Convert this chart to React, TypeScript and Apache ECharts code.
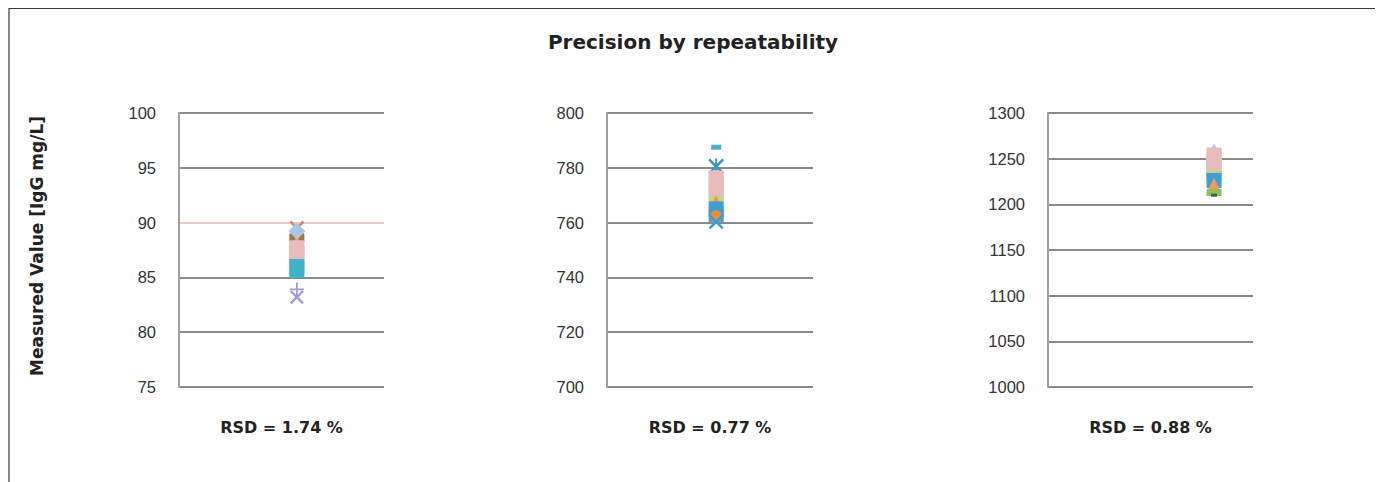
import React, { useEffect, useRef } from "react";
import * as echarts from "echarts";

// ---- data ----
const panelTitles = ["RSD = 1.74 %", "RSD = 0.77 %", "RSD = 0.88 %"];
const yMins = [75, 700, 1000];
const yMaxs = [100, 800, 1300];
const yIntervals = [5, 20, 50];
const sampleSlot = [0.575, 0.53, 0.81];

// panel 1 (low level)
const low_xRed = [89.5];
const low_diamond = [89.2];
const low_brown = [88.6];
const low_orangeTri = [88.2];
const low_pink = [87.7, 87.3, 86.9, 86.6];
const low_teal = [86.0, 85.6];
const low_plus = [83.9];
const low_xPurple = [83.2];

// panel 2 (mid level)
const mid_dash = [787.5];
const mid_star = [780.5];
const mid_pink = [776.3, 774.3, 772.3, 770.6];
const mid_green = [768.6];
const mid_orangeTri = [767.6];
const mid_blue = [765.0, 763.0];
const mid_orangeCircle = [762.3];
const mid_xTeal = [760.3];

// panel 3 (high level)
const high_triangle = [1258];
const high_pink = [1254, 1250, 1246, 1242, 1238];
const high_green = [1234];
const high_teal = [1230];
const high_blue = [1226];
const high_orange = [1222, 1218];
const high_green2 = [1213];
const high_dark = [1210];

const X_PATH = "path://M0,1.2 L1.2,0 L10,8.8 L8.8,10 Z M8.8,0 L10,1.2 L1.2,10 L0,8.8 Z";
const PLUS_PATH = "path://M4.4,0 H5.6 V10 H4.4 Z M0,4.4 H10 V5.6 H0 Z";
const STAR_PATH =
  "path://M0,1.2 L1.2,0 L10,8.8 L8.8,10 Z M8.8,0 L10,1.2 L1.2,10 L0,8.8 Z M4.4,0 H5.6 V10 H4.4 Z";
const DASH_PATH = "path://M0,3.5 H10 V6.5 H0 Z";

type Sty = { symbol: string; color: string; size: number | number[] };
const S = {
  xRed: { symbol: X_PATH, color: "#e08470", size: 15 },
  diamond: { symbol: "diamond", color: "#a9c6e6", size: 17 },
  brown: { symbol: "rect", color: "#a8743e", size: [15, 8] },
  orangeTri: { symbol: "triangle", color: "#f29a50", size: 13 },
  pink: { symbol: "rect", color: "#e8bcbc", size: 15 },
  teal: { symbol: "rect", color: "#40b2c8", size: 15 },
  plus: { symbol: PLUS_PATH, color: "#9f98cc", size: 14 },
  xPurple: { symbol: X_PATH, color: "#a29ad0", size: 14 },
  dash: { symbol: DASH_PATH, color: "#4bb0cc", size: [10, 5] },
  star: { symbol: STAR_PATH, color: "#3b96bc", size: 16 },
  green: { symbol: "rect", color: "#c2d48e", size: [15, 6] },
  blue: { symbol: "rect", color: "#3f9fd2", size: 15 },
  orangeCircle: { symbol: "circle", color: "#f08a3c", size: 12 },
  xTeal: { symbol: X_PATH, color: "#3b9fd0", size: 15 },
  triangleBlue: { symbol: "triangle", color: "#a9c3e4", size: 16 },
  tealMid: { symbol: "rect", color: "#52bcd4", size: [15, 8] },
  green2: { symbol: "rect", color: "#8fc060", size: [15, 7] },
  dark: { symbol: "rect", color: "#4a5a40", size: [6, 3] },
} as Record<string, Sty>;

const panels: [string, number[]][][] = [
  [
    ["xRed", low_xRed],
    ["brown", low_brown],
    ["orangeTri", low_orangeTri],
    ["pink", low_pink],
    ["teal", low_teal],
    ["diamond", low_diamond],
    ["plus", low_plus],
    ["xPurple", low_xPurple],
  ],
  [
    ["dash", mid_dash],
    ["star", mid_star],
    ["pink", mid_pink],
    ["green", mid_green],
    ["orangeTri", mid_orangeTri],
    ["blue", mid_blue],
    ["orangeCircle", mid_orangeCircle],
    ["xTeal", mid_xTeal],
  ],
  [
    ["triangleBlue", high_triangle],
    ["pink", high_pink],
    ["green", high_green],
    ["tealMid", high_teal],
    ["blue", high_blue],
    ["orangeTri", high_orange],
    ["green2", high_green2],
    ["dark", high_dark],
  ],
];

const gridLefts = [171, 599, 1040];
const gridWidths = [205, 206, 205];
const GRID_TOP = 105;
const GRID_H = 274;

export default function App() {
  const ref = useRef<HTMLDivElement>(null);
  useEffect(() => {
    if (!ref.current) return;
    const chart = echarts.init(ref.current, undefined, { renderer: "svg" });
    const grids = gridLefts.map((l, i) => ({
      left: l,
      top: GRID_TOP,
      width: gridWidths[i],
      height: GRID_H,
    }));
    const xAxes = gridLefts.map((_, i) => ({
      type: "value",
      gridIndex: i,
      min: 0,
      max: 1,
      show: false,
    }));
    const yAxes = gridLefts.map((_, i) => {
      const n = Math.round((yMaxs[i] - yMins[i]) / yIntervals[i]) + 1;
      const colors: string[] = [];
      for (let k = 0; k < n; k++) {
        const v = yMins[i] + k * yIntervals[i];
        colors.push(i === 0 && v === 90 ? "#e6cccc" : "#8a8a8a");
      }
      return {
        type: "value",
        gridIndex: i,
        min: yMins[i],
        max: yMaxs[i],
        interval: yIntervals[i],
        axisLine: { show: true, lineStyle: { color: "#a0a0a0", width: 2 } },
        axisTick: { show: false },
        axisLabel: {
          color: "#333",
          fontSize: 16.5,
          fontFamily: "Liberation Sans",
          margin: 23,
          formatter: (v: number) => String(v),
        },
        splitLine: { show: true, lineStyle: { color: colors, width: 2 } },
      };
    });
    const series: any[] = [];
    panels.forEach((p, i) => {
      p.forEach(([key, vals]) => {
        const st = S[key];
        series.push({
          type: "scatter",
          xAxisIndex: i,
          yAxisIndex: i,
          symbol: st.symbol,
          symbolSize: st.size,
          itemStyle: { color: st.color, opacity: 1 },
          data: vals.map((v) => [sampleSlot[i], v]),
        });
      });
    });
    const graphics: any[] = [
      {
        type: "rect",
        shape: { x: 1, y: 0.5, width: 1368, height: 600 },
        style: { fill: "none", stroke: "#3a3a3a", lineWidth: 1.2 },
        silent: true,
      },
      {
        type: "text",
        x: 685,
        y: 34,
        style: {
          text: "Precision by repeatability",
          fontFamily: "DejaVu Sans",
          fontWeight: "bold",
          fontSize: 20,
          fill: "#222",
          textAlign: "center",
          textVerticalAlign: "middle",
        },
      },
      {
        type: "text",
        x: 29,
        y: 238,
        rotation: Math.PI / 2,
        style: {
          text: "Measured Value [IgG mg/L]",
          fontFamily: "DejaVu Sans",
          fontWeight: "bold",
          fontSize: 17,
          fill: "#222",
          textAlign: "center",
          textVerticalAlign: "middle",
        },
      },
    ];
    panelTitles.forEach((t, i) => {
      graphics.push({
        type: "text",
        x: gridLefts[i] + gridWidths[i] / 2,
        y: 419,
        style: {
          text: t,
          fontFamily: "DejaVu Sans",
          fontWeight: "bold",
          fontSize: 16,
          fill: "#222",
          textAlign: "center",
          textVerticalAlign: "middle",
        },
      });
    });
    chart.setOption({
      animation: false,
      backgroundColor: "#fff",
      grid: grids,
      xAxis: xAxes,
      yAxis: yAxes,
      series,
      graphic: graphics,
    });
    return () => chart.dispose();
  }, []);
  return <div ref={ref} style={{ width: 1375, height: 474 }} />;
}
